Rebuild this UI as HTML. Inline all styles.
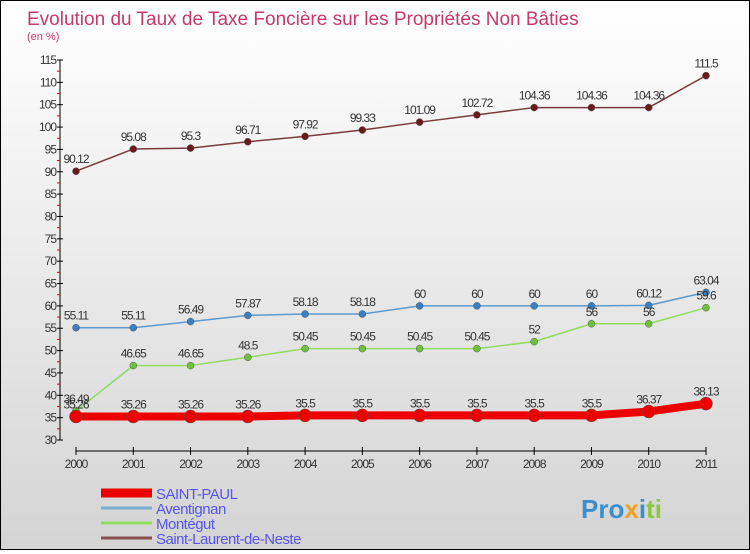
<!DOCTYPE html>
<html><head><meta charset="utf-8"><style>
html,body{margin:0;padding:0}
body{width:750px;height:550px;overflow:hidden;font-family:"Liberation Sans",sans-serif}
#wrap{position:relative;width:748px;height:548px;border:1px solid #000;background:linear-gradient(#ffffff,#d4d4d4)}
</style></head><body>
<div id="wrap">
<svg id="chart" width="748" height="548">
<text x="26" y="24" font-size="19" fill="#c8386a">Evolution du Taux de Taxe Foncière sur les Propriétés Non Bâties</text>
<text x="26" y="39" font-size="11" fill="#c8386a">(en %)</text>
<text x="580" y="517" font-size="26" font-weight="bold" fill="#3a8fd0">Pro<tspan fill="#f0a020">x</tspan><tspan fill="#3a8fd0">i</tspan><tspan fill="#8cc83c">ti</tspan></text>
</svg>
</div>
<script>
const years=["2000","2001","2002","2003","2004","2005","2006","2007","2008","2009","2010","2011"];
const yTicks=[30,35,40,45,50,55,60,65,70,75,80,85,90,95,100,105,110,115];
const saintPaul=[35.26,35.26,35.26,35.26,35.5,35.5,35.5,35.5,35.5,35.5,36.37,38.13];
const aventignan=[55.11,55.11,56.49,57.87,58.18,58.18,60,60,60,60,60.12,63.04];
const montegut=[36.49,46.65,46.65,48.5,50.45,50.45,50.45,50.45,52,56,56,59.6];
const saintLaurent=[90.12,95.08,95.3,96.71,97.92,99.33,101.09,102.72,104.36,104.36,104.36,111.5];
const NS="http://www.w3.org/2000/svg";
const svg=document.getElementById('chart');
const x0=75,x1=705,yMin=30,yMax=115,py0=439,py1=59;
const xs=i=>x0+i*(x1-x0)/(years.length-1);
const ys=v=>py0-(v-yMin)*(py0-py1)/(yMax-yMin);
function el(t,a){const e=document.createElementNS(NS,t);for(const k in a)e.setAttribute(k,a[k]);svg.appendChild(e);return e;}
let ax=el('line',{x1:59,y1:ys(yMax),x2:59,y2:py0,stroke:'#000'});

yTicks.forEach((v,i)=>{const y=ys(v);
 const t=el('line',{x1:56,x2:62,y1:y,y2:y,stroke:'#000'});
 
 if(i<yTicks.length-1){const m=el('line',{x1:56,x2:59,y1:ys(v+2.5),y2:ys(v+2.5),stroke:'#e00'});
 }
 const l=el('text',{x:55,y:y+4,'font-size':12,fill:'#333','text-anchor':'end','letter-spacing':'-1'});l.textContent=v;
 });
let xa=el('line',{x1:x0,y1:450,x2:x1,y2:450,stroke:'#000'});

years.forEach((yr,i)=>{const x=xs(i);
 const t=el('line',{x1:x,x2:x,y1:446,y2:454,stroke:'#000'});
 
 const l=el('text',{x:x,y:467,'font-size':12,fill:'#333','text-anchor':'middle','letter-spacing':'-1'});l.textContent=yr;
 });
function series(vals,color,dot,w,r,name){
 const p=el('polyline',{points:vals.map((v,i)=>xs(i)+','+ys(v)).join(' '),fill:'none',stroke:color,'stroke-width':w,'stroke-linejoin':'round'});
 
 vals.forEach((v,i)=>{const c=el('circle',{cx:xs(i),cy:ys(v),r:r,fill:dot,stroke:'#555','stroke-width':0.5});
  
  const l=el('text',{x:xs(i),y:ys(v)-8,'font-size':12,fill:'#333','text-anchor':'middle','letter-spacing':'-1'});l.textContent=v;
  });
}
series(saintLaurent,'#7a3a3a','#6a1a1a',1.5,3.5,'saint-laurent');
series(aventignan,'#5a9ad0','#3a80c0',1.5,3.5,'aventignan');
series(montegut,'#90dc60','#70c040',1.5,3.5,'montegut');
series(saintPaul,'#ee0000','#ee0000',8,6.5,'saint-paul');
const leg=[['SAINT-PAUL','#ee0000',9],['Aventignan','#7aaed0',3],['Montégut','#90dc60',3],['Saint-Laurent-de-Neste','#8a5050',3]];
leg.forEach((d,i)=>{const y=492+i*15;
 const l=el('line',{x1:100,x2:151,y1:y,y2:y,stroke:d[1],'stroke-width':d[2]});
 
 const t=el('text',{x:155,y:y+6,'font-size':15,fill:'#5555ee','letter-spacing':'-0.5'});t.textContent=d[0];
 });
</script>
</body></html>
